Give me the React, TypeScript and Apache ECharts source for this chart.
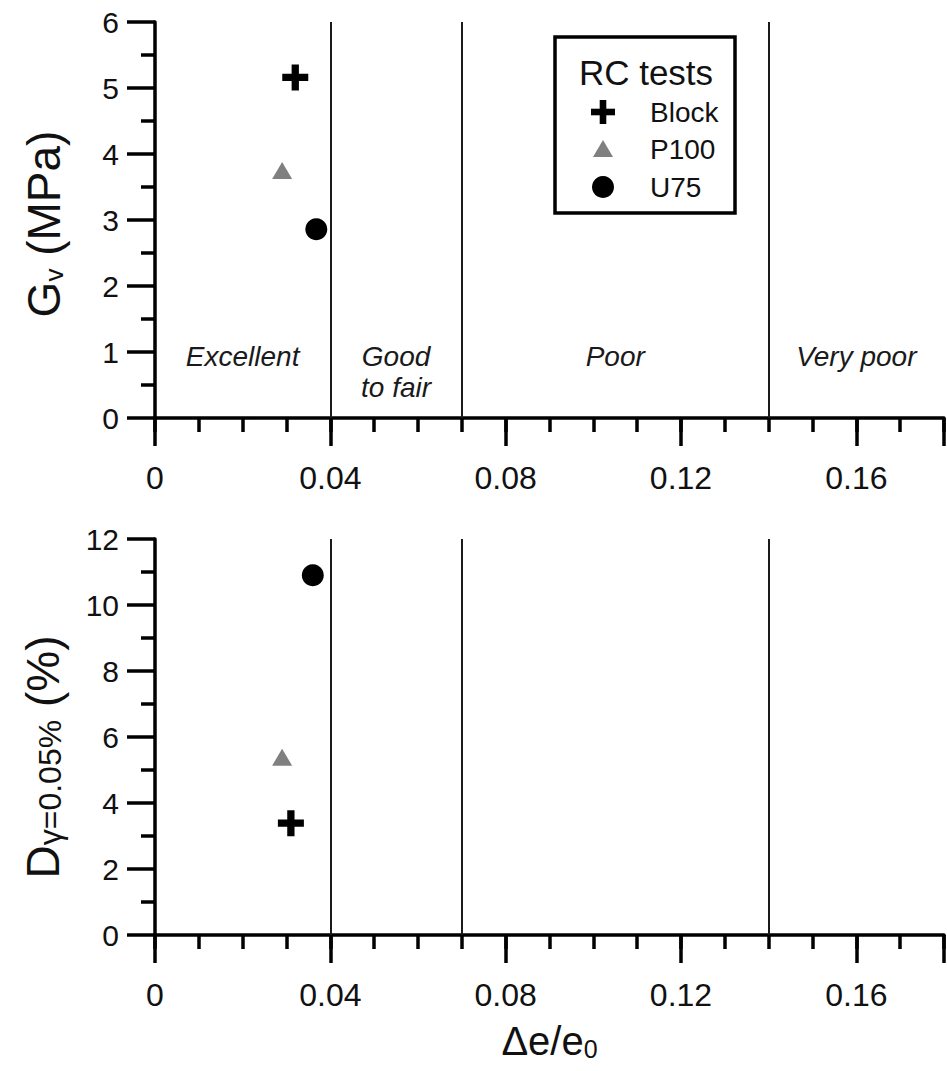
import React, { useEffect, useRef } from "react";
import * as echarts from "echarts";

const FONT = "'Liberation Sans', Arial, Helvetica, sans-serif";

// Δe/e0 versus small-strain shear modulus Gv (MPa)
const gvBlock: number[][] = [[0.032, 5.16]];
const gvP100: number[][] = [[0.029, 3.75]];
const gvU75: number[][] = [[0.0368, 2.86]];

// Δe/e0 versus damping ratio at γ = 0.05 % (%)
const dBlock: number[][] = [[0.031, 3.39]];
const dP100: number[][] = [[0.029, 5.39]];
const dU75: number[][] = [[0.036, 10.9]];

// Sample-quality class boundaries on Δe/e0
const boundaries = [0.04, 0.07, 0.14];
const zoneNames = ["Excellent", "Good\nto fair", "Poor", "Very poor"];

const X_MAX = 0.18;
const xTickLabels = (v: number) => (v > 0.17 ? "" : v === 0 ? "0" : v.toFixed(2));

const PLUS = "path://M3.6,0H6.4V3.6H10V6.4H6.4V10H3.6V6.4H0V3.6H3.6Z";
const GREY = "#808080";
const INK = "#111";

const majorX = (gridIndex: number, name?: string) => ({
  type: "value",
  gridIndex,
  min: 0,
  max: X_MAX,
  interval: 0.04,
  position: "bottom",
  name: name ?? "",
  nameLocation: "middle",
  nameGap: 86,
  nameTextStyle: {
    fontFamily: FONT,
    color: INK,
    rich: {
      m: { fontSize: 40, fontFamily: FONT, color: INK, lineHeight: 40, verticalAlign: "top", padding: [0, 0, 8, 0] },
      s: { fontSize: 25, fontFamily: FONT, color: INK, lineHeight: 25, verticalAlign: "bottom" },
    },
  },
  axisLine: { show: true, onZero: false, lineStyle: { color: "#000", width: 3.5 } },
  axisTick: { show: true, length: 28, lineStyle: { color: "#000", width: 3.5 } },
  axisLabel: { margin: 44, fontSize: 32, fontFamily: FONT, color: INK, formatter: xTickLabels },
  splitLine: { show: false },
});

const minorX = (gridIndex: number) => ({
  type: "value",
  gridIndex,
  min: 0,
  max: X_MAX,
  interval: 0.01,
  position: "bottom",
  axisLine: { show: false, onZero: false },
  axisTick: { show: true, length: 14, lineStyle: { color: "#000", width: 3.5 } },
  axisLabel: { show: false },
  splitLine: { show: false },
});

const yAxisBase = (
  gridIndex: number,
  max: number,
  interval: number,
  name: string,
  subSize: number,
  shiftDown: number
) => ({
  type: "value",
  gridIndex,
  min: 0,
  max,
  interval,
  name,
  nameLocation: "middle",
  nameGap: 88,
  nameTextStyle: {
    fontFamily: FONT,
    color: INK,
    padding: [0, shiftDown * 2, 0, 0],
    rich: {
      m: { fontSize: 46, fontFamily: FONT, color: INK, lineHeight: 46, verticalAlign: "top", padding: [0, 0, 9, 0] },
      s: { fontSize: subSize, fontFamily: FONT, color: INK, lineHeight: subSize, verticalAlign: "bottom" },
    },
  },
  axisLine: { show: true, onZero: false, lineStyle: { color: "#000", width: 3.5 } },
  axisTick: { show: true, length: 28, lineStyle: { color: "#000", width: 3.5 } },
  minorTick: { show: true, splitNumber: 2, length: 14, lineStyle: { color: "#000", width: 3.5 } },
  axisLabel: { margin: 36, fontSize: 30, fontFamily: FONT, color: INK },
  splitLine: { show: false },
  minorSplitLine: { show: false },
});

const boundaryLines = {
  silent: true,
  symbol: ["none", "none"],
  label: { show: false },
  lineStyle: { color: "#1a1a1a", width: 2, type: "solid", opacity: 1 },
  data: boundaries.map((x) => ({ xAxis: x })),
};

const scatter = (name: string, xAxisIndex: number, yAxisIndex: number, data: number[][]) => {
  const common = { name, type: "scatter", xAxisIndex, yAxisIndex, data, z: 5 };
  if (name === "Block")
    return { ...common, symbol: PLUS, symbolSize: 26, itemStyle: { color: "#000", opacity: 1 } };
  if (name === "P100")
    return { ...common, symbol: "triangle", symbolSize: [20, 17], itemStyle: { color: GREY, opacity: 1 } };
  return { ...common, symbol: "circle", symbolSize: 22, itemStyle: { color: "#000", opacity: 1 } };
};

// Zone names sit midway between neighbouring class boundaries
const zoneEdges = [0, ...boundaries, X_MAX];
const zoneData = zoneNames.map((name, i) => ({
  name,
  value: [(zoneEdges[i] + zoneEdges[i + 1]) / 2, 1.16],
}));

export default function App() {
  const ref = useRef<HTMLDivElement>(null);

  useEffect(() => {
    if (!ref.current) return;
    const chart = echarts.init(ref.current, undefined, { renderer: "svg" });

    const legendX = 603;
    const legendRows = [112, 149, 187];

    chart.setOption({
      animation: false,
      backgroundColor: "#fff",
      grid: [
        { left: 155, top: 22, right: 0, height: 396 },
        { left: 155, top: 539, right: 0, height: 396 },
      ],
      xAxis: [majorX(0), minorX(0), majorX(1, "{m|Δe/e}{s|0}"), minorX(1)],
      yAxis: [
        yAxisBase(0, 6, 1, "{m|G}{s|v}{m| (MPa)}", 26, 4),
        yAxisBase(1, 12, 2, "{m|D}{s|γ=0.05%}{m| (%)}", 32, 20),
      ],
      series: [
        { ...scatter("Block", 0, 0, gvBlock), markLine: boundaryLines },
        scatter("P100", 0, 0, gvP100),
        scatter("U75", 0, 0, gvU75),
        { ...scatter("Block", 2, 1, dBlock), markLine: boundaryLines },
        scatter("P100", 2, 1, dP100),
        scatter("U75", 2, 1, dU75),
        {
          name: "zones",
          type: "scatter",
          xAxisIndex: 0,
          yAxisIndex: 0,
          symbolSize: 0,
          silent: true,
          itemStyle: { opacity: 1 },
          data: zoneData,
          label: {
            show: true,
            position: "bottom",
            distance: 0,
            formatter: (p: any) => p.name,
            fontSize: 28,
            fontStyle: "italic",
            fontFamily: FONT,
            color: "#1a1a1a",
            lineHeight: 31,
            align: "center",
          },
        },
      ],
      graphic: [
        {
          type: "group",
          z: 100,
          children: [
            {
              type: "rect",
              shape: { x: 555, y: 37, width: 180, height: 176 },
              style: { fill: "#fff", stroke: "#000", lineWidth: 3.5 },
            },
            {
              type: "text",
              x: 646,
              y: 72,
              style: { text: "RC tests", fontSize: 35, fontFamily: FONT, fill: INK, align: "center", verticalAlign: "middle" },
            },
            { type: "rect", shape: { x: legendX - 12, y: legendRows[0] - 3.3, width: 24, height: 6.6 }, style: { fill: "#000" } },
            { type: "rect", shape: { x: legendX - 3.3, y: legendRows[0] - 12, width: 6.6, height: 24 }, style: { fill: "#000" } },
            {
              type: "polygon",
              shape: { points: [[legendX - 10, legendRows[1] + 8], [legendX + 10, legendRows[1] + 8], [legendX, legendRows[1] - 9]] },
              style: { fill: GREY },
            },
            { type: "circle", shape: { cx: legendX, cy: legendRows[2], r: 11 }, style: { fill: "#000" } },
            ...["Block", "P100", "U75"].map((t, i) => ({
              type: "text",
              x: 650,
              y: legendRows[i],
              style: { text: t, fontSize: 28, fontFamily: FONT, fill: INK, align: "left", verticalAlign: "middle" },
            })),
          ],
        },
      ],
    });

    return () => chart.dispose();
  }, []);

  return (
    <div
      ref={ref}
      style={{ position: "absolute", left: 0, top: 0, width: 947, height: 1071, background: "#fff" }}
    />
  );
}
